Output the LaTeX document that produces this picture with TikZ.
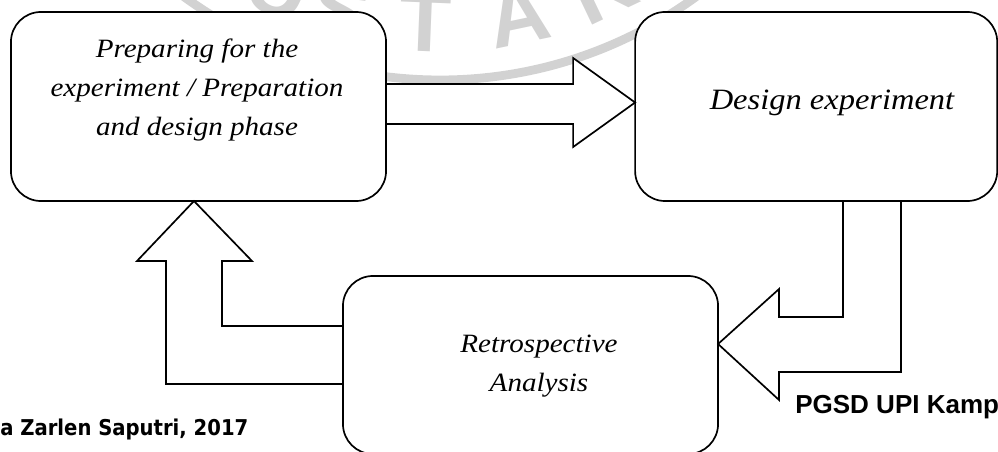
\documentclass[tikz,border=0pt]{standalone}
\usepackage{fontspec}
\usepackage{graphicx}
\setmainfont{Liberation Serif}
\newfontfamily\armfont{Liberation Sans}
\newfontfamily\capfont{DejaVu Sans}
\usetikzlibrary{positioning}

\newcommand{\widen}[1]{\scalebox{1.1}[1]{#1}}

\tikzset{
  stage/.style={draw, line width=1.2pt, rounded corners=0.75cm, fill=white,
    inner sep=0pt, outer sep=0pt},
  stagetext/.style={font=\itshape\fontsize{18.8}{27.5}\selectfont, align=center, inner sep=0pt},
  block/.style={draw, line width=1.2pt, fill=white, line join=miter},
  wmletter/.style={gray!35, anchor=base, inner sep=0pt, font=\armfont\bfseries\fontsize{60}{60}\selectfont}
}

\begin{document}
\begin{tikzpicture}[x=0.025cm, y=-0.025cm]
	\useasboundingbox (0,0) rectangle (998,452);
	% watermark
	\begin{scope}
		\clip (0,0) rectangle (998,452);
		\draw[gray!35, line width=0.22cm] (440,-355) circle[radius=435];
		\node[wmletter, rotate=-25.2] (wmU) at (267,13) {U};
		\node[wmletter, rotate=-15.4] (wmS) at (332,38) {S};
		\node[wmletter, rotate=-2.3] (wmT) at (424,52) {T};
		\node[wmletter, rotate=11.9] (wmA) at (524,43) {A};
		\node[wmletter, rotate=25.5] (wmK) at (615,14) {K};
	\end{scope}
	% stages
	\node[stage, minimum width=9.375cm, minimum height=4.725cm] (prep) at (198.5,106.5) {};
	\node[stage, minimum width=9.05cm, minimum height=4.725cm, right=6.225cm of prep] (design) {};
	\node[stage, minimum width=9.375cm, minimum height=4.45cm] (retro) at (530.5,365) {};
	\node[stagetext] (preptext) at (197,90) {\widen{Preparing for the}\\ \widen{experiment / Preparation}\\ \widen{and design phase}};
	\node[stagetext, font=\itshape\fontsize{21}{28}\selectfont, anchor=base] (designtext) at (832,110) {\widen{Design experiment}};
	\node[stagetext] (retrotext) at (539,366) {\widen{Retrospective}\\ \widen{Analysis}};
	% block arrows
	\draw[block] (design.west) ++(0,-4) -- ++(-62,-44.5) -- ++(0,26) -- ++(-187,0)
		-- ++(0,40) -- ++(187,0) -- ++(0,23) -- cycle;
	\draw[block] (retro.east) ++(0,-21) -- ++(61,-55) -- ++(0,28) -- ++(64,0)
		-- ++(0,-116) -- ++(58,0) -- ++(0,171) -- ++(-122,0) -- ++(0,28) -- cycle;
	\draw[block] (prep.south) ++(-4.5,0) -- ++(58,60) -- ++(-30,0) -- ++(0,65)
		-- ++(121,0) -- ++(0,58) -- ++(-177,0) -- ++(0,-123) -- ++(-29,0) -- cycle;
	% footer text
	\node[anchor=base west, inner sep=0pt, font=\capfont\bfseries\fontsize{15.5}{18}\selectfont] (author) at (0,435) {\scalebox{0.9}[1]{a Zarlen Saputri, 2017}};
	\node[anchor=base west, inner sep=0pt, font=\armfont\bfseries\fontsize{18.5}{20}\selectfont] (campus) at (795,413) {PGSD UPI Kamp};
\end{tikzpicture}
\end{document}
